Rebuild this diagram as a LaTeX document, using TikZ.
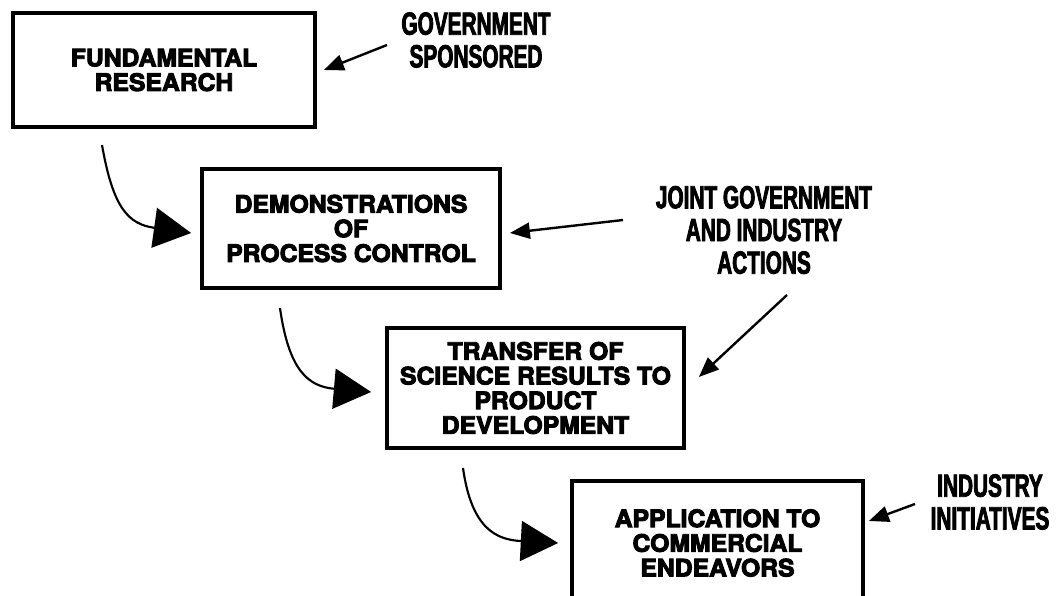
\documentclass[tikz,border=0pt]{standalone}
\usepackage{fontspec}
\usetikzlibrary{arrows.meta,calc}
\newfontfamily\boxfont{TeX Gyre Heros}[FakeBold=4,FakeStretch=1.03]
\newfontfamily\handfont{Liberation Sans}[FakeStretch=0.65,FakeBold=2.5]
\begin{document}
\begin{tikzpicture}[x=0.75pt,y=0.75pt,
  stagebox/.style={draw, line width=2.8pt, inner sep=0pt, align=center,
    font=\boxfont\bfseries\fontsize{18}{18.5}\selectfont},
  hand/.style={align=center, inner sep=0pt,
    font=\handfont\bfseries\fontsize{24}{24.5}\selectfont},
  thinarrow/.style={line width=1.8pt, -{Triangle[length=15pt,width=12pt]}},
  bigarrow/.style={line width=1.6pt, -{Triangle[length=28pt,width=30pt]}}]
\path[use as bounding box] (0,0) rectangle (1058,-596);
\clip (0,0) rectangle (1058,-596);

% boxes
\node[stagebox, minimum width=226.5pt, minimum height=85.5pt] (B1) at (164,-70)
  {FUNDAMENTAL\\RESEARCH};
\node[stagebox, minimum width=223.5pt, minimum height=89.25pt] (B2) at (351,-228.5)
  {DEMONSTRATIONS\\OF\\PROCESS CONTROL};
\node[stagebox, minimum width=222.75pt, minimum height=90pt] (B3) at (535.5,-388)
  {TRANSFER OF\\SCIENCE RESULTS TO\\PRODUCT\\DEVELOPMENT};
\node[stagebox, minimum width=218.25pt, minimum height=93pt] (B4) at (717.5,-543)
  {APPLICATION TO\\COMMERCIAL\\ENDEAVORS};

% labels
\node[hand] (L1) at (476,-40) {GOVERNMENT\\SPONSORED};
\node[hand] (L2) at (764,-230) {JOINT GOVERNMENT\\AND INDUSTRY\\ACTIONS};
\node[hand] (L3) at (990,-502) {INDUSTRY\\INITIATIVES};

% label arrows
\coordinate (a1) at (387,-45);
\coordinate (a2) at (623,-220);
\coordinate (a3) at (787,-295);
\coordinate (a4) at (915,-504);
\draw[thinarrow] (a1) -- ($(B1.east)+(7,0)$);
\draw[thinarrow] (a2) -- ($(B2.east)+(8,-4.5)$);
\draw[thinarrow] (a3) -- ($(B3.east)+(13,11)$);
\draw[thinarrow] (a4) -- ($(B4.east)+(4,22)$);

% flow curves
\coordinate (s1) at (102,-145);
\coordinate (s2) at (280,-308);
\coordinate (s3) at (463,-468);
\draw[bigarrow] (s1) to[out=-80,in=172,looseness=1.3] ($(B2.west)+(-9,-4.5)$);
\draw[bigarrow] (s2) to[out=-82,in=175,looseness=1.3] ($(B3.west)+(-14,-4)$);
\draw[bigarrow] (s3) to[out=-82,in=177,looseness=1.3] ($(B4.west)+(-12,0)$);
\end{tikzpicture}
\end{document}
